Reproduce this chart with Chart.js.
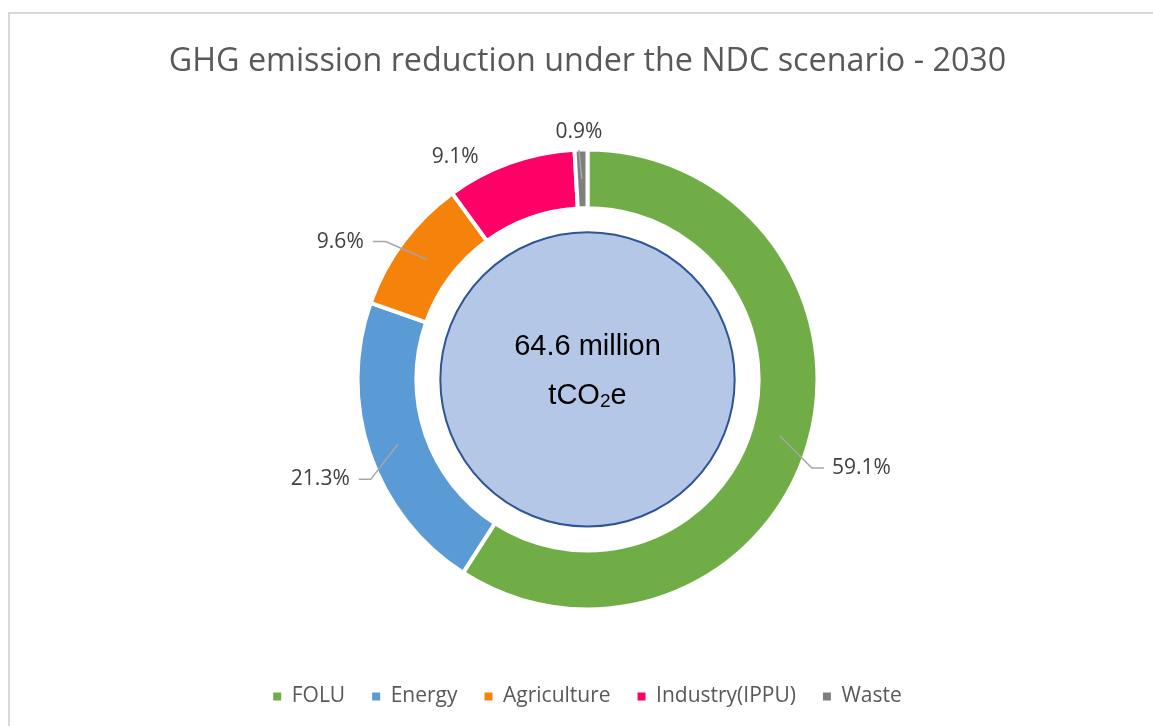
<!DOCTYPE html>
<html><head><meta charset="utf-8">
<script src="https://cdn.jsdelivr.net/npm/chart.js@4.4.1/dist/chart.umd.min.js"></script>
<style>
html,body{margin:0;padding:0;background:#fff;overflow:hidden}
#frame{position:absolute;left:8px;top:12px;width:1400px;height:900px;border-left:2px solid #D9D9D9;border-top:2px solid #D9D9D9;}
#wrap{position:absolute;left:0;top:0;width:1153px;height:726px}
</style></head><body>
<div id="frame"></div>
<div id="wrap"><canvas id="c"></canvas></div>
<script>
const titleText = 'GHG emission reduction under the NDC scenario - 2030';
const categories = ['FOLU', 'Energy', 'Agriculture', 'Industry(IPPU)', 'Waste'];
const shares = [59.1, 21.3, 9.6, 9.1, 0.9];
const valueLabels = ['59.1%', '21.3%', '9.6%', '9.1%', '0.9%'];
const centerLine1 = '64.6 million';
const centerLine2 = ['tCO', '2', 'e'];
const colors = ['#70AD47', '#5B9BD5', '#F5820A', '#FF0066', '#7F7F7F'];

// label placement relative to the arc's mid-ring anchor (style only)
const labelPlacement = [
  {line: [[32, 32], [44, 32]], text: [52, 32], align: 'left'},
  {line: [[-27, 35], [-39, 35]], text: [-48, 35], align: 'right'},
  {line: [[-41, -18], [-54, -18]], text: [-63, -17], align: 'right'},
  {line: null, text: [-65, -33], align: 'center'},
  {line: [[-3, -29]], text: [-3, -47], align: 'center'}
];

function anchorOf(arc) {
  const mid = (arc.startAngle + arc.endAngle) / 2;
  const r = (arc.innerRadius + arc.outerRadius) / 2;
  return [arc.x + Math.cos(mid) * r, arc.y + Math.sin(mid) * r];
}

const centerPlugin = {
  id: 'centerDisc',
  beforeDatasetsDraw(chart) {
    const arc = chart.getDatasetMeta(0).data[0];
    if (!arc) return;
    const ctx = chart.ctx;
    const cx = arc.x, cy = arc.y;
    const r = arc.innerRadius * 0.86;
    ctx.save();
    ctx.beginPath();
    ctx.arc(cx, cy, r, 0, Math.PI * 2);
    ctx.fillStyle = '#B4C7E7';
    ctx.fill();
    ctx.lineWidth = 2;
    ctx.strokeStyle = '#2F5597';
    ctx.stroke();
    ctx.fillStyle = '#000';
    ctx.textBaseline = 'alphabetic';
    ctx.textAlign = 'center';
    ctx.font = '29px "Liberation Sans", Arial, sans-serif';
    ctx.fillText(centerLine1, cx, cy - 24);
    const big = '29px "Liberation Sans", Arial, sans-serif';
    const small = '19px "Liberation Sans", Arial, sans-serif';
    ctx.textAlign = 'left';
    ctx.font = big; const w1 = ctx.measureText(centerLine2[0]).width;
    ctx.font = small; const w2 = ctx.measureText(centerLine2[1]).width;
    ctx.font = big; const w3 = ctx.measureText(centerLine2[2]).width;
    let x = cx - (w1 + w2 + w3) / 2;
    const by = cy + 25;
    ctx.font = big; ctx.fillText(centerLine2[0], x, by); x += w1;
    ctx.font = small; ctx.fillText(centerLine2[1], x, by + 3); x += w2;
    ctx.font = big; ctx.fillText(centerLine2[2], x, by);
    ctx.restore();
  }
};

const labelPlugin = {
  id: 'outLabels',
  afterDatasetsDraw(chart) {
    const ctx = chart.ctx;
    const arcs = chart.getDatasetMeta(0).data;
    ctx.save();
    arcs.forEach((arc, i) => {
      const p = labelPlacement[i];
      const [ax, ay] = anchorOf(arc);
      if (p.line) {
        ctx.beginPath();
        ctx.moveTo(ax, ay);
        p.line.forEach(([dx, dy]) => ctx.lineTo(ax + dx, ay + dy));
        ctx.strokeStyle = '#A6A6A6';
        ctx.lineWidth = 1.5;
        ctx.stroke();
      }
      ctx.fillStyle = '#404040';
      ctx.font = '21px "Open Sans", sans-serif';
      ctx.textAlign = p.align;
      ctx.textBaseline = 'middle';
      ctx.fillText(valueLabels[i], ax + p.text[0], ay + p.text[1]);
    });
    ctx.restore();
  }
};

new Chart(document.getElementById('c'), {
  type: 'doughnut',
  data: {
    labels: categories,
    datasets: [{
      data: shares,
      backgroundColor: colors,
      borderColor: '#FFFFFF',
      borderWidth: 4,
      hoverOffset: 0
    }]
  },
  options: {
    responsive: true,
    maintainAspectRatio: false,
    animation: false,
    radius: 230,
    cutout: '74.4%',
    layout: {padding: {left: 22, right: 0, top: 0, bottom: 9}},
    plugins: {
      title: {
        display: true,
        text: titleText,
        color: '#595959',
        font: {family: 'Open Sans', size: 32.3, weight: 'normal'},
        padding: {top: 42, bottom: 19}
      },
      legend: {
        position: 'bottom',
        labels: {
          boxWidth: 8,
          boxHeight: 8,
          padding: 27,
          color: '#595959',
          font: {family: 'Open Sans', size: 21},
          generateLabels: () => categories.map((t, i) => ({
            text: t, fillStyle: colors[i], strokeStyle: colors[i], lineWidth: 0,
            hidden: false, index: i, fontColor: '#595959'
          }))
        }
      },
      tooltip: {enabled: false}
    }
  },
  plugins: [centerPlugin, labelPlugin]
});
</script>
</body></html>
